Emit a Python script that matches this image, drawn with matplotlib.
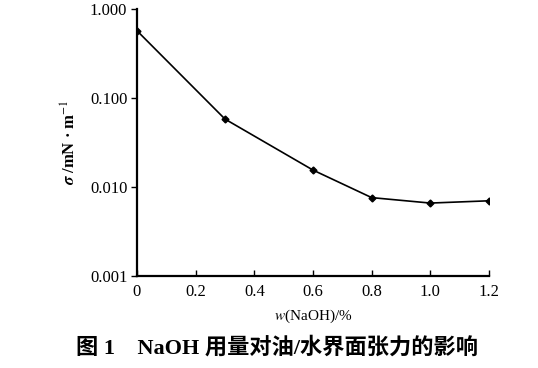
import matplotlib
matplotlib.use("Agg")
import matplotlib.pyplot as plt

# NaOH dosage vs interfacial tension
naoh = [0, 0.3, 0.6, 0.8, 1.0, 1.2]
sigma = [0.57, 0.058, 0.0155, 0.0076, 0.0066, 0.0070]
xticks = [0, 0.2, 0.4, 0.6, 0.8, 1.0, 1.2]
xlabels = ["0", "0.2", "0.4", "0.6", "0.8", "1.0", "1.2"]
yticks = [0.001, 0.01, 0.1, 1.0]
ylabels = ["0.001", "0.010", "0.100", "1.000"]

serif = "Liberation Serif"
plt.rcParams["mathtext.fontset"] = "stix"

fig = plt.figure(figsize=(5.38, 3.68), dpi=100)
ax = fig.add_axes([0.2546, 0.25, 0.6543, 0.7255])

ax.plot(naoh, sigma, color="black", linewidth=1.2, marker="D", markersize=3.5,
        markerfacecolor="black", markeredgecolor="black")

ax.set_yscale("log")
ax.set_xlim(0, 1.2)
ax.set_ylim(0.001, 1.0)
ax.set_xticks(xticks)
ax.set_xticklabels(xlabels, fontfamily=serif, fontsize=12)
ax.set_yticks(yticks)
ax.set_yticklabels(ylabels, fontfamily=serif, fontsize=12)
ax.minorticks_off()

ax.spines["top"].set_visible(False)
ax.spines["right"].set_visible(False)
ax.spines["left"].set_linewidth(1.6)
ax.spines["bottom"].set_linewidth(1.6)
ax.tick_params(axis="x", direction="in", length=4, width=1, pad=6)
ax.tick_params(axis="y", direction="out", length=4, width=1, pad=3)

ax.set_xlabel(r"$w$(NaOH)/%", fontfamily=serif, fontsize=11, labelpad=5)
ax.set_ylabel(r"$\boldsymbol{\sigma}$ /mN · m$^{-1}$", fontfamily=serif,
              fontsize=12, fontweight="bold", labelpad=7)

fig.text(0.515, 0.054, "图 1    NaOH 用量对油/水界面张力的影响",
         ha="center", va="center", fontsize=16, fontweight="bold",
         family=[serif, "Noto Sans CJK SC"])

fig.savefig("out.png", dpi=100)
